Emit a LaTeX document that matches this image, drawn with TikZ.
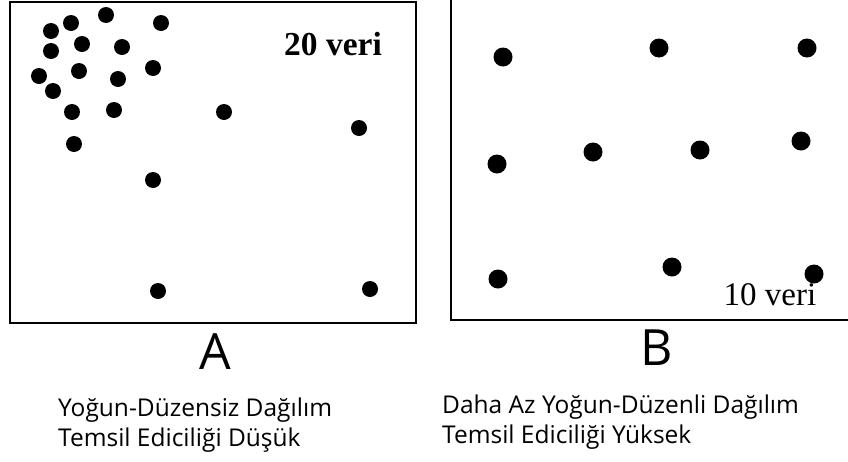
\documentclass[tikz,border=0pt]{standalone}
\usepackage{fontspec}
\setmainfont{Liberation Serif}
\newfontfamily\notefont{Open Sans}

\tikzset{
  dot/.style={fill=black},
  frame/.style={line width=2.6pt},
  letter/.style={font=\notefont\fontsize{50}{54}\selectfont},
  remark/.style={anchor=west, align=left, inner sep=0pt,
    font=\notefont\fontsize{24.5}{30}\selectfont}
}

\begin{document}
\begin{tikzpicture}[x=1pt, y=-1pt]
\useasboundingbox (0,0) rectangle (848,461);
\clip (0,0) rectangle (848,461);

% left panel
\draw [frame] (10,2) rectangle (416,323);
\foreach \x/\y in {51/31, 71/23, 106/15, 161/23, 51/51, 82/44, 122/47,
  153/68, 39/76, 79/71, 118/79, 53/91, 72/112, 114/110, 224/112,
  359/128, 74/144, 153/180, 158/291, 370/289}
  \fill [dot] (\x,\y) circle (8);
\node (countA) at (333,44) {\fontsize{33.5}{36}\selectfont\bfseries 20 veri};

% right panel
\draw [frame] (451,-5) -- (451,320) -- (860,320);
\foreach \x/\y in {503/57, 659/48, 807/48, 497/164, 593/152, 700/150,
  801/141, 498/279, 672/267, 814/274}
  \fill [dot] (\x,\y) circle (9.5);
\node (countB) at (770,295) {\fontsize{33}{36}\selectfont 10 veri};

\node [letter] (labA) at (215,352) {A};
\node [letter] (labB) at (657,348) {B};

\node [remark] (noteA) at (58,425) {Yoğun-Düzensiz Dağılım\\Temsil Ediciliği Düşük};
\node [remark] (noteB) at (442,422) {Daha Az Yoğun-Düzenli Dağılım\\Temsil Ediciliği Yüksek};

\end{tikzpicture}
\end{document}
